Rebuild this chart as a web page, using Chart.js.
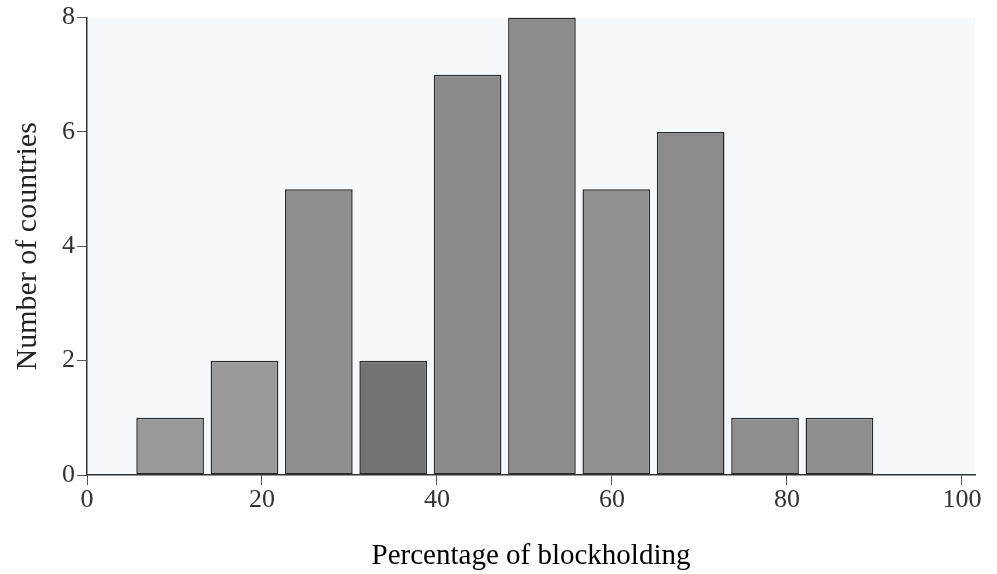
<!DOCTYPE html>
<html>
<head>
<meta charset="utf-8">
<script src="https://cdn.jsdelivr.net/npm/chart.js@4"></script>
<style>
  html, body { margin: 0; padding: 0; background: #fff; }
  #wrap { width: 997px; height: 574px; }
</style>
</head>
<body>
<div id="wrap"><canvas id="chart"></canvas></div>
<script>
// histogram data
const binCenters = [9.5, 18, 26.5, 35, 43.5, 52, 60.5, 69, 77.5, 86];
const countries = [1, 2, 5, 2, 7, 8, 5, 6, 1, 1];
const barColors = ['#9a9a9a', '#9a9a9a', '#8e8e8e', '#737373', '#8a8a8a', '#8c8c8c', '#909090', '#8c8c8c', '#8e8e8e', '#8e8e8e'];
const xTicks = [0, 20, 40, 60, 80, 100];
const yTicks = [0, 2, 4, 6, 8];

const serif = '"Liberation Serif", "DejaVu Serif", serif';

// faint tint behind the plot, like the scanned page
const tint = {
  id: 'tint',
  beforeDraw(chart) {
    const { ctx, chartArea: a } = chart;
    ctx.save();
    ctx.fillStyle = '#f6f9fc';
    ctx.fillRect(a.left, a.top, a.right - a.left, a.bottom - a.top);
    ctx.restore();
  }
};

const ctx = document.getElementById('chart').getContext('2d');
new Chart(ctx, {
  type: 'bar',
  data: {
    datasets: [{
      data: binCenters.map((x, i) => ({ x: x, y: countries[i] })),
      backgroundColor: barColors,
      borderColor: '#2a2a2a',
      borderWidth: 1.5,
      borderSkipped: false,
      categoryPercentage: 1,
      barPercentage: 0.91
    }]
  },
  options: {
    responsive: true,
    maintainAspectRatio: false,
    animation: false,
    layout: { padding: { top: 16, right: 22, left: 7, bottom: 0 } },
    plugins: { legend: { display: false }, tooltip: { enabled: false } },
    scales: {
      x: {
        type: 'linear',
        offset: false,
        min: 0,
        max: 101.5,
        afterBuildTicks: s => { s.ticks = xTicks.map(v => ({ value: v })); },
        grid: { offset: false, drawOnChartArea: false, tickLength: 10, color: '#555', tickColor: '#555' },
        border: { color: '#333', width: 1.5 },
        ticks: { color: '#333', font: { family: serif, size: 26 }, padding: 0, maxRotation: 0 },
        title: {
          display: true,
          text: 'Percentage of blockholding',
          color: '#000',
          font: { family: serif, size: 29 },
          padding: { top: 23, bottom: 0 }
        }
      },
      y: {
        min: 0,
        max: 8,
        afterBuildTicks: s => { s.ticks = yTicks.map(v => ({ value: v })); },
        grid: { drawOnChartArea: false, tickLength: 10, color: '#555', tickColor: '#555' },
        border: { color: '#333', width: 1.5 },
        ticks: { color: '#333', font: { family: serif, size: 26 }, padding: 2 },
        title: {
          display: true,
          text: 'Number of countries',
          color: '#222',
          font: { family: serif, size: 30 },
          padding: { top: 3, bottom: 14 }
        }
      }
    }
  },
  plugins: [tint]
});
</script>
</body>
</html>
